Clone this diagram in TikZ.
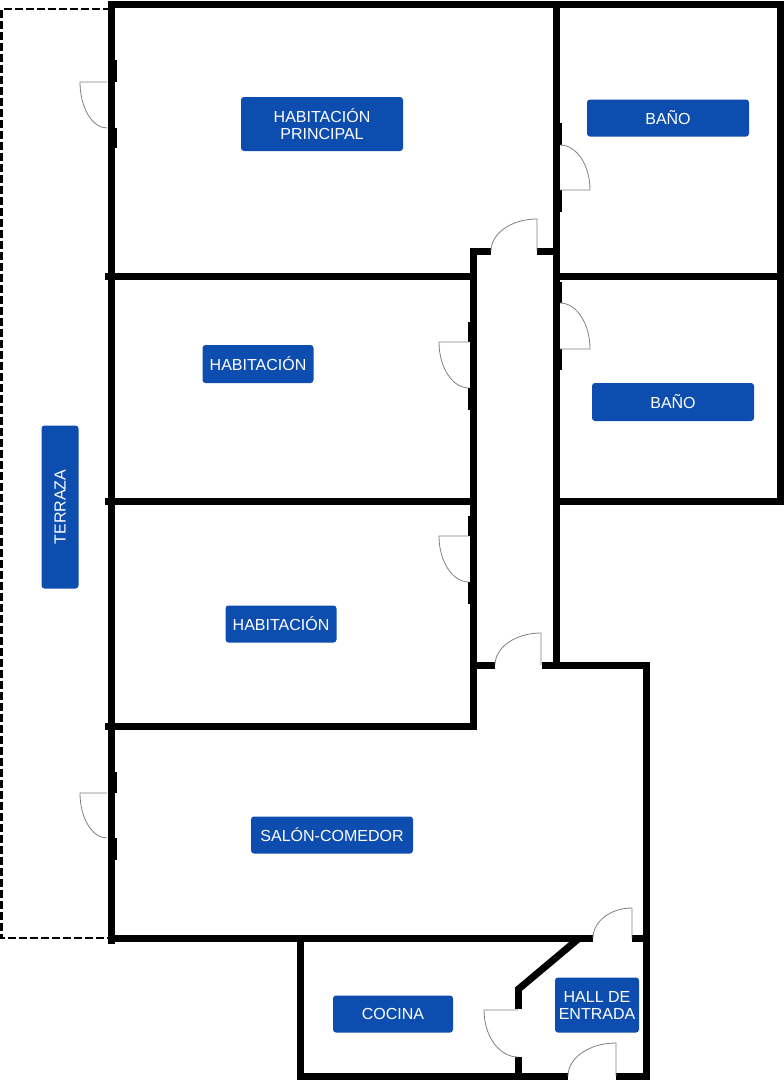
\documentclass[tikz,border=0pt]{standalone}
\usepackage{fontspec}
\setmainfont{Liberation Sans}
\definecolor{roomblue}{RGB}{12,77,175}

\begin{document}
\begin{tikzpicture}[x=1pt,y=-1pt,
  wall/.style={line width=7pt, line cap=rect, line join=miter},
  jamb/.style={line width=3pt},
  door/.style={gray, line width=0.8pt},
  room/.style={fill=roomblue, text=white, rounded corners=3pt, align=center,
    inner sep=0pt, font=\fontsize{16}{17}\selectfont}]
  \useasboundingbox (0,0) rectangle (784,1080);

  % terraza
  \draw[line width=2.5pt, dash pattern=on 8pt off 3pt] (111,9) -- (1.5,9) -- (1.5,938) -- (111,938);

  % outer walls
  \draw[wall] (111,940) -- (111,4) -- (780,4) -- (780,501) -- (556,501);
  \draw[wall] (545.5,665) -- (646,665) -- (646,1076) -- (619.5,1076);
  \draw[wall] (300,938) -- (300,1076) -- (564.5,1076);

  % inner walls
  \draw[wall] (556,4) -- (556,665);
  \draw[wall] (473,251) -- (473,726);
  \draw[wall] (473,251) -- (487.5,251);
  \draw[wall] (540.5,251) -- (556,251);
  \draw[wall] (473,665) -- (491.5,665);
  \draw[wall] (108,276) -- (473,276);
  \draw[wall] (556,276) -- (780,276);
  \draw[wall] (108,501) -- (473,501);
  \draw[wall] (108,726) -- (473,726);
  \draw[wall] (111,938) -- (589.5,938);
  \draw[wall] (635.5,938) -- (646,938);
  \draw[wall] (577,940) -- (521,987);
  \draw[wall] (518,990.5) -- (518,1005.5);
  \draw[wall] (518,1060.5) -- (518,1076);

  % jambs
  \draw[jamb] (115,60) -- (115,82);
  \draw[jamb] (115,128) -- (115,148);
  \draw[jamb] (115,772) -- (115,793);
  \draw[jamb] (115,838) -- (115,860);
  \draw[jamb] (560,123) -- (560,145);
  \draw[jamb] (560,190) -- (560,212);
  \draw[jamb] (560,282) -- (560,303);
  \draw[jamb] (560,349) -- (560,370);
  \draw[jamb] (469,322) -- (469,342);
  \draw[jamb] (469,388) -- (469,410);
  \draw[jamb] (469,516) -- (469,536);
  \draw[jamb] (469,582) -- (469,604);

  % doors
  \draw[door] (107,82) -- (80,82) arc[start angle=180, end angle=90, x radius=27, y radius=46];
  \draw[door] (107,793) -- (80,793) arc[start angle=180, end angle=90, x radius=27, y radius=45];
  \draw[door] (537,251) -- (537,219) arc[start angle=270, end angle=180, x radius=46, y radius=32];
  \draw[door] (560,190) -- (590,190) arc[start angle=0, end angle=-90, x radius=30, y radius=45];
  \draw[door] (560,349) -- (590,349) arc[start angle=0, end angle=-90, x radius=30, y radius=46];
  \draw[door] (469,342) -- (439,342) arc[start angle=180, end angle=90, x radius=30, y radius=46];
  \draw[door] (469,536) -- (439,536) arc[start angle=180, end angle=90, x radius=30, y radius=46];
  \draw[door] (541,665) -- (541,633) arc[start angle=270, end angle=180, x radius=46, y radius=32];
  \draw[door] (632,938) -- (632,908) arc[start angle=270, end angle=180, x radius=39, y radius=30];
  \draw[door] (518,1010) -- (484,1010) arc[start angle=180, end angle=90, x radius=34, y radius=47];
  \draw[door] (616,1076) -- (616,1043) arc[start angle=270, end angle=180, x radius=48, y radius=33];

  % rooms
  \node[room, minimum width=162pt, minimum height=54pt] (principal) at (322,124) {HABITACIÓN\\PRINCIPAL};
  \node[room, minimum width=162pt, minimum height=37pt] (bano1) at (668,118) {BAÑO};
  \node[room, minimum width=162pt, minimum height=38pt] (bano2) at (673,402) {BAÑO};
  \node[room, minimum width=111pt, minimum height=38pt] (hab1) at (258,364) {HABITACIÓN};
  \node[room, minimum width=111pt, minimum height=37pt] (hab2) at (281,624) {HABITACIÓN};
  \node[room, minimum width=162pt, minimum height=37pt] (salon) at (332,835) {SALÓN-COMEDOR};
  \node[room, minimum width=120pt, minimum height=37pt] (cocina) at (393,1014) {COCINA};
  \node[room, minimum width=84pt, minimum height=55pt] (hall) at (597,1005) {HALL DE\\ENTRADA};
  \node[room, minimum width=163pt, minimum height=37pt, rotate=90] (terraza) at (60,507) {TERRAZA};
\end{tikzpicture}
\end{document}
